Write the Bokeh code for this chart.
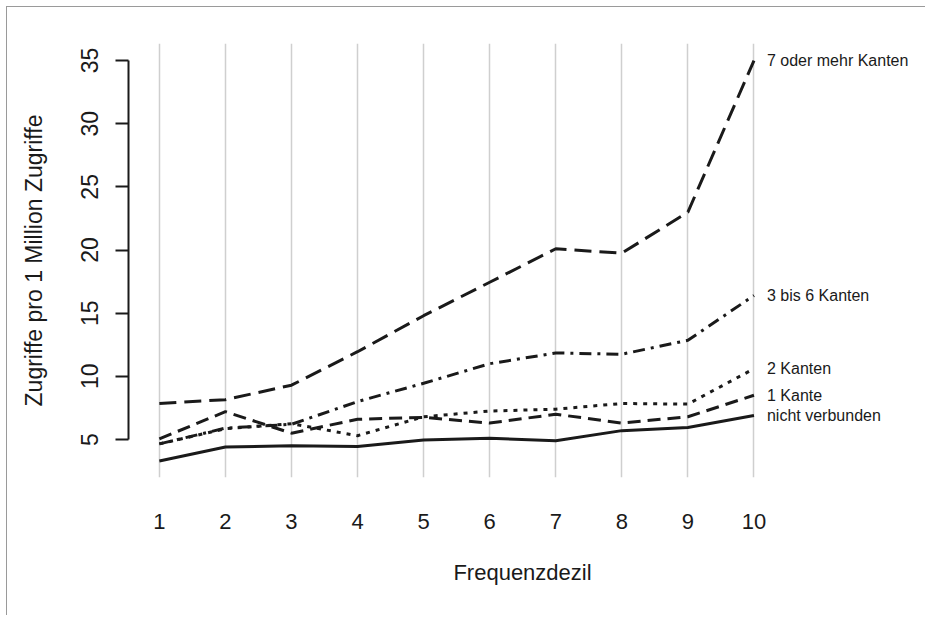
from bokeh.plotting import figure
from bokeh.models import FixedTicker, Range1d, ColumnDataSource
from bokeh.core.properties import value
from bokeh.embed import file_html
from bokeh.resources import INLINE

# ---- data ----
dezile = [1, 2, 3, 4, 5, 6, 7, 8, 9, 10]
nicht_verbunden = [3.3, 4.4, 4.5, 4.45, 4.95, 5.1, 4.9, 5.7, 5.95, 6.9]
eine_kante = [5.05, 7.2, 5.5, 6.6, 6.75, 6.3, 7.0, 6.3, 6.8, 8.5]
zwei_kanten = [4.65, 5.85, 6.25, 5.3, 6.8, 7.25, 7.4, 7.85, 7.8, 10.6]
drei_bis_sechs = [4.65, 5.9, 6.2, 8.0, 9.45, 11.0, 11.85, 11.75, 12.85, 16.4]
sieben_plus = [7.85, 8.15, 9.3, 11.95, 14.8, 17.45, 20.1, 19.75, 23.0, 35.0]

series_names = ["nicht verbunden", "1 Kante", "2 Kanten", "3 bis 6 Kanten", "7 oder mehr Kanten"]
series_values = [nicht_verbunden, eine_kante, zwei_kanten, drei_bis_sechs, sieben_plus]
y_ticks = [5, 10, 15, 20, 25, 30, 35]

dashes = ["solid", "13 7", "4 6", "12 6 3 6", "17 8"]
FONT = "Liberation Sans"
INK = "#1a1a1a"

p = figure(width=919, height=609, output_backend="svg", toolbar_location=None,
           x_range=Range1d(0.533, 12.46), y_range=Range1d(1.99, 36.35),
           min_border_left=121, min_border_top=36, min_border_right=10,
           min_border_bottom=139)
p.outline_line_color = None
p.background_fill_color = "white"
p.border_fill_color = "white"
p.styles = {"border-top": "1px solid #9a9a9a", "border-left": "1px solid #9a9a9a",
            "margin-left": "6px", "margin-top": "6px"}

# grid
p.ygrid.visible = False
p.xgrid.ticker = FixedTicker(ticks=dezile)
p.xgrid.grid_line_color = "#cfcfcf"
p.xgrid.grid_line_width = 1.5

# x axis
p.xaxis.ticker = FixedTicker(ticks=dezile)
p.xaxis.axis_line_color = None
p.xaxis.major_tick_line_color = None
p.xaxis.minor_tick_line_color = None
p.xaxis.major_label_standoff = 30
p.xaxis.major_label_text_font = FONT
p.xaxis.major_label_text_font_size = "22px"
p.xaxis.major_label_text_color = INK
p.xaxis.axis_label = "Frequenzdezil"
p.xaxis.axis_label_text_font = FONT
p.xaxis.axis_label_text_font_size = "22px"
p.xaxis.axis_label_text_font_style = "normal"
p.xaxis.axis_label_text_color = INK
p.xaxis.axis_label_standoff = 28

# y axis
p.yaxis.ticker = FixedTicker(ticks=y_ticks)
p.yaxis.bounds = (5, 35)
p.yaxis.axis_line_width = 2
p.yaxis.axis_line_color = INK
p.yaxis.major_tick_line_width = 2
p.yaxis.major_tick_line_color = INK
p.yaxis.major_tick_out = 13
p.yaxis.major_tick_in = 0
p.yaxis.minor_tick_line_color = None
p.yaxis.major_label_orientation = "vertical"
p.yaxis.major_label_standoff = 17
p.yaxis.major_label_text_font = FONT
p.yaxis.major_label_text_font_size = "23px"
p.yaxis.major_label_text_color = INK
p.yaxis.axis_label = "Zugriffe pro 1 Million Zugriffe"
p.yaxis.axis_label_text_font = FONT
p.yaxis.axis_label_text_font_size = "23px"
p.yaxis.axis_label_text_font_style = "normal"
p.yaxis.axis_label_text_color = INK
p.yaxis.axis_label_standoff = 32

# lines
for name, vals, dash in zip(series_names, series_values, dashes):
    p.line(dezile, vals, line_color=INK, line_width=3, line_dash=dash)

# end labels
src = ColumnDataSource(dict(
    x=[dezile[-1]] * len(series_names),
    y=[v[-1] for v in series_values],
    t=series_names,
))
p.text(x="x", y="y", text="t", source=src, x_offset=13,
       text_baseline="middle", text_align="left",
       text_font=value(FONT), text_font_size="16px", text_color=INK)

open("out.html", "w").write(file_html(p, INLINE))
